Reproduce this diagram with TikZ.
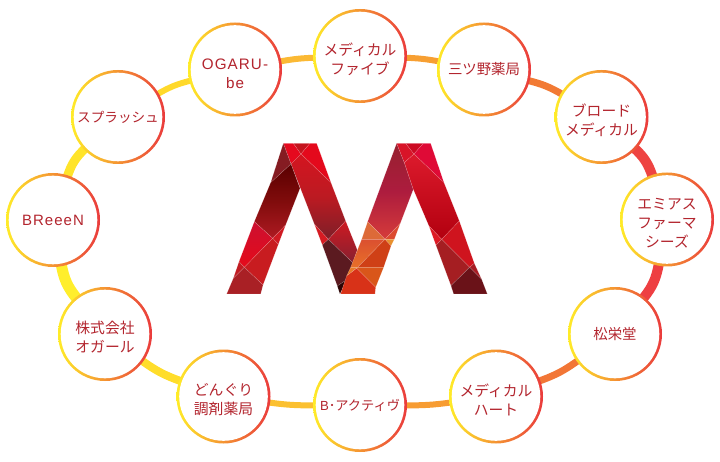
\documentclass[tikz,border=0pt]{standalone}
\usepackage{fontspec}
\usepackage{xcolor}
\usepackage{tikz}
\usetikzlibrary{backgrounds}
\setmainfont{Noto Sans CJK JP}
\newfontfamily\latinfont[LetterSpace=7]{Liberation Sans}
\newcommand{\lowtext}{\rule{0pt}{19pt}}
\definecolor{ringYellow}{HTML}{FFEC28}
\definecolor{ringOrange}{HTML}{FBB232}
\definecolor{ringRed}{HTML}{EA3A3C}
\definecolor{labelRed}{HTML}{B3252E}
\tikzset{
    station/.style={circle, minimum size=94pt, inner sep=0pt, align=center, text=labelRed,
        font=\fontsize{14.8}{19}\selectfont,
        left color=ringYellow, middle color=ringOrange, right color=ringRed,
        path picture={\fill [white] (path picture bounding box.center) circle (44.3pt);}},
    link/.style={line width=#1, shorten <=-2pt, shorten >=-2pt},
    facet/.style={draw=white, draw opacity=0.3, line width=0.3pt},
    hx/.code={\definecolor{hxfill}{HTML}{#1}\tikzset{fill=hxfill}},
    grad/.code args={#1 to #2}{\definecolor{gradA}{HTML}{#1}\definecolor{gradB}{HTML}{#2}\tikzset{top color=gradA, bottom color=gradB}},
    gradm/.code args={#1 to #2 to #3}{\definecolor{gradA}{HTML}{#1}\definecolor{gradM}{HTML}{#2}\definecolor{gradB}{HTML}{#3}\tikzset{top color=gradA, bottom color=gradB, middle color=gradM}}
}
\begin{document}
\begin{tikzpicture}[x=1pt, y=-1pt]
    \useasboundingbox (0,0) rectangle (720,462);

    \node [station] (ogaru) at (235,69.5) {\lowtext{\latinfont\fontsize{15.2}{19}\selectfont OGARU-}\\{\latinfont\fontsize{15.2}{19}\selectfont be}};
    \node [station] (fivemed) at (360,56) {\lowtext メディカル\\ファイブ};
    \node [station] (mitsuya) at (484,69.5) {{\fontsize{14.4}{19}\selectfont 三ツ野薬局}};
    \node [station] (broad) at (601.5,117) {\lowtext ブロード\\メディカル};
    \node [station] (emiasu) at (667,219.5) {\lowtext エミアス\\ファーマ\\シーズ};
    \node [station] (shoei) at (615,334) {{\fontsize{14.4}{19}\selectfont 松栄堂}};
    \node [station] (heart) at (496,396.5) {\lowtext メディカル\\ハート};
    \node [station] (active) at (360,405) {{\fontsize{13.2}{19}\selectfont{\latinfont B}･アクティヴ}};
    \node [station] (donguri) at (223.5,396.5) {\lowtext どんぐり\\調剤薬局};
    \node [station] (ogarukk) at (105,334) {\lowtext 株式会社\\オガール};
    \node [station] (breeen) at (53,220) {{\latinfont\fontsize{15}{19}\selectfont BReeeN}};
    \node [station] (splash) at (118,117) {{\fontsize{13.6}{19}\selectfont スプラッシュ}};

    % ring between the stations
    \begin{pgfonlayer}{background}
        \foreach \from/\to/\wd/\col/\ben in {
            splash/ogaru/6pt/FFD92B/8, ogaru/fivemed/6pt/FBB934/4, fivemed/mitsuya/6pt/F79F32/4,
            mitsuya/broad/7pt/F27A34/8, broad/emiasu/10pt/EE4442/14, emiasu/shoei/10pt/EE3F42/14,
            shoei/heart/7pt/F27636/8, heart/active/6pt/F79C32/4, active/donguri/6pt/FBC030/4,
            donguri/ogarukk/8pt/FFDD2B/8, ogarukk/breeen/11pt/FFEE2C/14, breeen/splash/9pt/FFE42A/14} {
            \definecolor{linkcol}{HTML}{\col}
            \draw [link=\wd, linkcol] (\from) to [bend left=\ben] (\to);
        }
    \end{pgfonlayer}

    % the M, second band first
    \begin{scope}[shift={(220,130)}, x=0.3333pt, y=-0.3333pt]
        \path [facet, hx=E5091E] (190,40) -- (220,40) -- (243,72) -- (213,102) -- cycle;
        \path [facet, hx=C4151E] (220,40) -- (270,40) -- (243,72) -- cycle;
        \path [facet, hx=E4091C] (270,40) -- (290,40) -- (333,158) -- (243,72) -- cycle;
        \path [facet, gradm=D41520 to BC1A22 to 7D1F28] (213,102) -- (243,72) -- (333,158) -- (377,273) -- (325,328) -- (283,282) -- cycle;
        \path [facet, hx=D51B22] (283,282) -- (325,328) -- (307,345) -- cycle;
        \path [facet, grad=CE1A22 to 862030] (377,273) -- (412,360) -- (399,399) -- (325,328) -- cycle;
        \path [facet, hx=5B1A20] (307,345) -- (325,328) -- (399,399) -- (376,452) -- (352,468) -- cycle;
        \path [facet, hx=2D0505] (352,468) -- (376,452) -- (366,480) -- (360,492) -- cycle;

        % left leg
        \path [facet, hx=851C22] (190,40) -- (213,102) -- (152,158) -- cycle;
        \path [facet, gradm=5A0000 to 800C0C to AE1A22] (213,102) -- (240,175) -- (197,285) -- (158,325) -- (103,275) -- (152,158) -- cycle;
        \path [facet, grad=CC1030 to E50A1A] (103,275) -- (158,325) -- (73,412) -- (57,395) -- cycle;
        \path [facet, hx=CF1A22] (197,285) -- (175,343) -- (158,325) -- cycle;
        \path [facet, hx=C81C20] (158,325) -- (175,343) -- (129,465) -- (73,412) -- cycle;
        \path [facet, hx=C11C22] (57,395) -- (73,412) -- (40,445) -- cycle;
        \path [facet, hx=A92025] (40,445) -- (73,412) -- (129,465) -- (122,492) -- (20,492) -- cycle;

        % orange leg
        \path [facet, gradm=96202F to AD1C3E to D63C3A] (530,40) -- (553,98) -- (580,178) -- (541,280) -- (495,328) -- (443,275) -- cycle;
        \path [facet, hx=DD6A38] (443,275) -- (495,328) -- (425,328) -- cycle;
        \path [facet, hx=DC4A30] (495,328) -- (541,280) -- (523,328) -- cycle;
        \path [facet, grad=DB5030 to E87028] (425,328) -- (495,328) -- (413,412) -- (392,412) -- cycle;
        \path [facet, hx=E8902E] (495,328) -- (523,328) -- (513,348) -- cycle;
        \path [facet, hx=CF4016] (495,328) -- (513,348) -- (491,412) -- (413,412) -- cycle;
        \path [facet, hx=E87A28] (392,412) -- (413,412) -- (380,438) -- cycle;
        \path [facet, hx=D9561A] (413,412) -- (491,412) -- (467,472) -- (410,415) -- cycle;
        \path [facet, hx=D83218] (380,438) -- (410,415) -- (467,472) -- (465,492) -- (362,492) -- cycle;

        % right band
        \path [facet, hx=D81428] (530,40) -- (557,40) -- (582,72) -- (553,98) -- cycle;
        \path [facet, hx=CC0A22] (557,40) -- (610,40) -- (582,72) -- cycle;
        \path [facet, hx=DF0A36] (610,40) -- (632,40) -- (672,158) -- (582,72) -- cycle;
        \path [facet, grad=DC1A2C to B2000F] (553,98) -- (582,72) -- (672,158) -- (718,273) -- (665,328) -- (627,288) -- (580,178) -- cycle;
        \path [facet, hx=DD1A24] (627,288) -- (665,328) -- (648,346) -- cycle;
        \path [facet, hx=CF141E] (718,273) -- (763,400) -- (749,412) -- (665,328) -- cycle;
        \path [facet, hx=A51E22] (648,346) -- (665,328) -- (749,412) -- (693,467) -- cycle;
        \path [facet, hx=A81C24] (763,400) -- (785,448) -- (749,412) -- cycle;
        \path [facet, hx=6A1218] (749,412) -- (785,448) -- (802,492) -- (701,492) -- (693,467) -- cycle;
    \end{scope}
\end{tikzpicture}
\end{document}
